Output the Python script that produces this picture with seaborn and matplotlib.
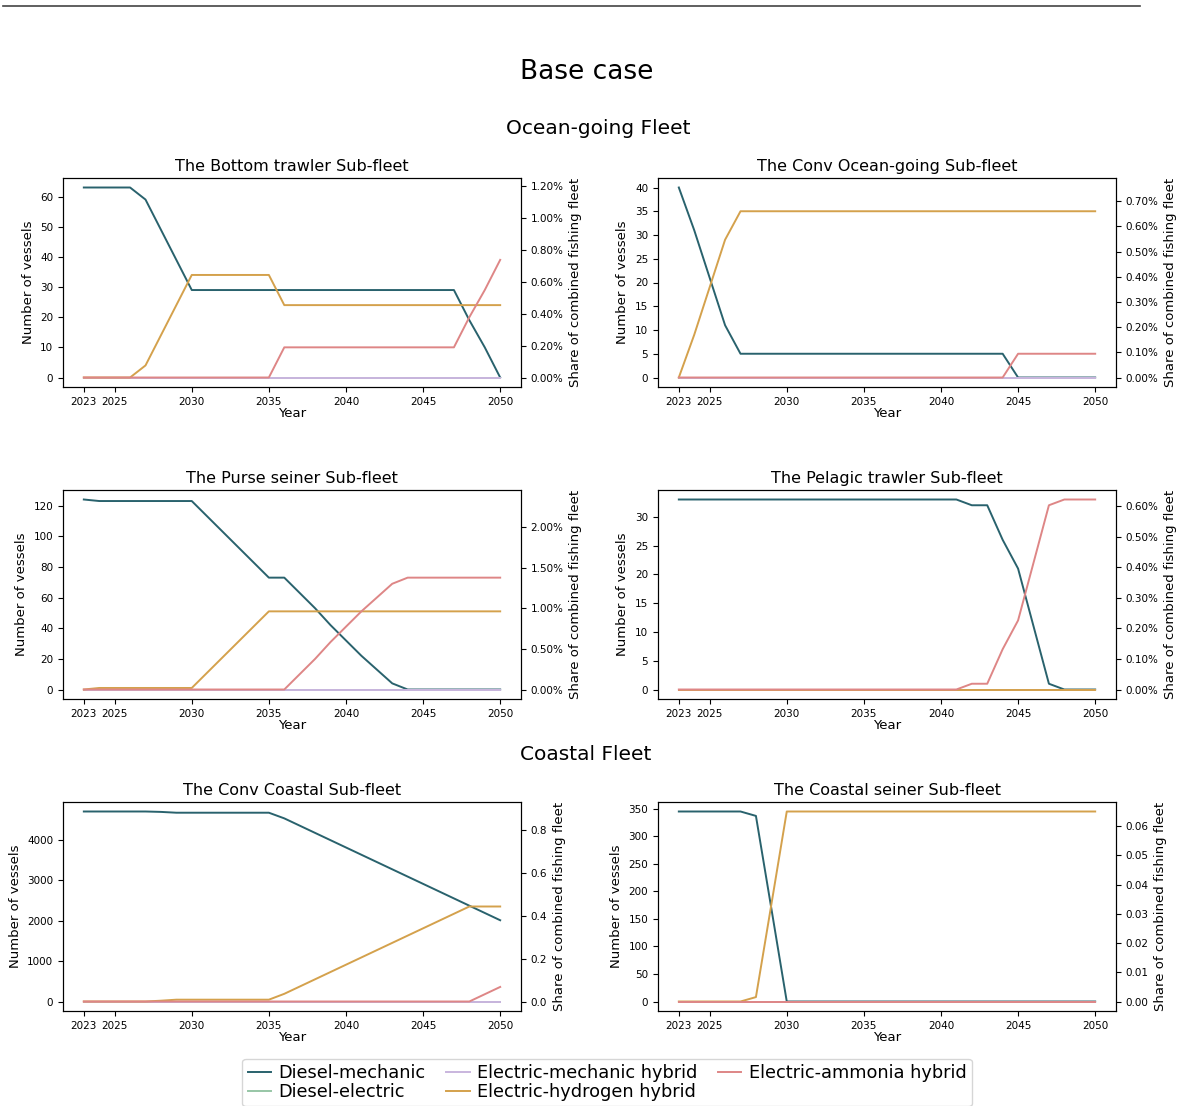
import numpy as np
import pandas as pd
import matplotlib
matplotlib.use("Agg")
import matplotlib.pyplot as plt
import seaborn as sns
from matplotlib.ticker import PercentFormatter
from matplotlib.lines import Line2D

# ---------------- data ----------------
years = list(range(2023, 2051))
technologies = ["Diesel-mechanic", "Diesel-electric", "Electric-mechanic hybrid",
                "Electric-hydrogen hybrid", "Electric-ammonia hybrid"]
tech_colors = ["#29626d", "#97c6a6", "#c9b5de", "#d4a14c", "#de8686"]
xtick_years = [2023, 2025, 2030, 2035, 2040, 2045, 2050]
zeros = [0] * 28

# Bottom trawler
bt_dm = [63, 63, 63, 63, 59, 49, 39, 29] + [29] * 17 + [19, 10, 0]
bt_h2 = [0, 0, 0, 0, 4, 14, 24, 34, 34, 34, 34, 34, 34] + [24] * 15
bt_nh3 = [0] * 13 + [10] * 12 + [20, 29, 39]

# Conv Ocean-going
co_dm = [40, 31, 21, 11] + [5] * 18 + [0] * 6
co_h2 = [0, 9, 19, 29] + [35] * 24
co_nh3 = [0] * 22 + [5] * 6

# Purse seiner
ps_dm = [124] + [123] * 7 + [113, 103, 93, 83, 73] + [73] + [63, 53, 42, 32, 22, 13, 4] + [0] * 7
ps_h2 = [0] + [1] * 7 + [11, 21, 31, 41, 51] + [51] * 15
ps_nh3 = [0] * 14 + [10, 20, 31, 41, 51, 60, 69] + [73] * 7

# Pelagic trawler
pt_dm = [33] * 19 + [32, 32, 26, 21, 11, 1, 0, 0, 0]
pt_h2 = [0] * 28
pt_nh3 = [0] * 19 + [1, 1, 7, 12, 22, 32, 33, 33, 33]

# Conv Coastal
cc_dm = [4700] * 5 + [4690] + [4670] * 7 + [4530, 4350, 4170, 3990, 3810, 3630, 3450,
                                          3270, 3090, 2910, 2730, 2550, 2370, 2190, 2010]
cc_h2 = [0] * 5 + [20] + [45] * 7 + [190, 370, 550, 730, 910, 1090, 1270, 1450, 1630,
                                    1810, 1990, 2170, 2350, 2350, 2350]
cc_nh3 = [0] * 26 + [180, 360]

# Coastal seiner
cs_dm = [345] * 5 + [337, 169] + [0] * 21
cs_h2 = [0] * 5 + [8, 176] + [345] * 21
cs_nh3 = [0] * 28

TOTAL_FLEET = 63 + 40 + 124 + 33 + 4700 + 345

subfleets = [
    ("The Bottom trawler Sub-fleet", bt_dm, bt_h2, bt_nh3, True),
    ("The Conv Ocean-going Sub-fleet", co_dm, co_h2, co_nh3, True),
    ("The Purse seiner Sub-fleet", ps_dm, ps_h2, ps_nh3, True),
    ("The Pelagic trawler Sub-fleet", pt_dm, pt_h2, pt_nh3, True),
    ("The Conv Coastal Sub-fleet", cc_dm, cc_h2, cc_nh3, False),
    ("The Coastal seiner Sub-fleet", cs_dm, cs_h2, cs_nh3, False),
]

# ---------------- figure ----------------
W, H = 1184, 1106
fig = plt.figure(figsize=(W / 100, H / 100), dpi=100)
palette = dict(zip(technologies, tech_colors))

col_x = [63, 658]
row_top = [178, 490, 802]
ax_w, ax_h = 458, 209

TICK_FS = 7.5
LAB_FS = 9.5
TITLE_FS = 11.5

for i, (title, dm, h2, nh3, pct) in enumerate(subfleets):
    r, c = divmod(i, 2)
    rect = [col_x[c] / W, 1 - (row_top[r] + ax_h) / H, ax_w / W, ax_h / H]
    ax = fig.add_axes(rect)
    series = {
        "Diesel-mechanic": dm,
        "Diesel-electric": zeros,
        "Electric-mechanic hybrid": zeros,
        "Electric-hydrogen hybrid": h2,
        "Electric-ammonia hybrid": nh3,
    }
    long = pd.concat([
        pd.DataFrame({"Year": years, "Vessels": vals, "Technology": t})
        for t, vals in series.items()
    ], ignore_index=True)
    sns.lineplot(data=long, x="Year", y="Vessels", hue="Technology",
                 hue_order=technologies, palette=palette, ax=ax,
                 legend=False, linewidth=1.4, errorbar=None)
    ax.set_xticks(xtick_years)
    ax.set_xlabel("Year", fontsize=LAB_FS, labelpad=0)
    ax.set_ylabel("Number of vessels", fontsize=LAB_FS)
    ax.set_title(title, fontsize=TITLE_FS, pad=5)
    ax.tick_params(labelsize=TICK_FS)

    ax2 = ax.twinx()
    lo, hi = ax.get_ylim()
    scale = 100.0 if pct else 1.0
    ax2.set_ylim(lo / TOTAL_FLEET * scale, hi / TOTAL_FLEET * scale)
    if pct:
        ax2.yaxis.set_major_formatter(PercentFormatter(xmax=100, decimals=2))
    ax2.set_ylabel("Share of combined fishing fleet", fontsize=LAB_FS)
    ax2.tick_params(labelsize=TICK_FS)

# figure texts
fig.text(586.5 / W, 1 - 72 / H, "Base case", ha="center", va="center", fontsize=19)
fig.text(598 / W, 1 - 128 / H, "Ocean-going Fleet", ha="center", va="center", fontsize=14.5)
fig.text(586 / W, 1 - 755 / H, "Coastal Fleet", ha="center", va="center", fontsize=14.5)

# top rule line
fig.add_artist(Line2D([3 / W, 1140 / W], [1 - 6 / H, 1 - 6 / H],
                      transform=fig.transFigure, color="#444444", linewidth=1.2))

# legend
handles = [Line2D([0], [0], color=col, linewidth=1.4) for col in tech_colors]
fig.legend(handles, technologies, loc="upper center", ncol=3,
           bbox_to_anchor=(607 / W, 1 - 1050 / H), fontsize=12.8,
           handlelength=1.3, handletextpad=0.4, columnspacing=1.2,
           borderpad=0.3, labelspacing=0.05, frameon=True)

fig.savefig("out.png", dpi=100)
